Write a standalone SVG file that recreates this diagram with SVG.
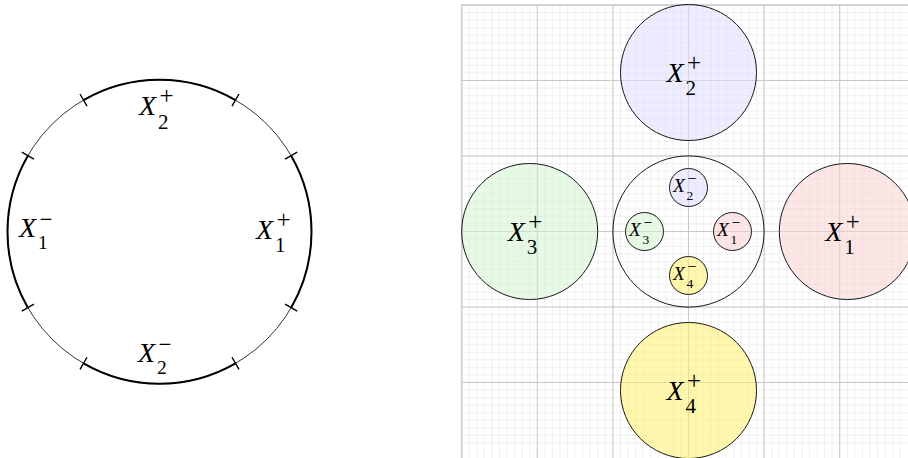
<svg xmlns="http://www.w3.org/2000/svg" width="908" height="458" viewBox="0 0 908 458">
<style>
text{font-family:"Liberation Serif",serif;fill:#000}
.x{font-style:italic;font-size:28px}
.s{font-style:normal;font-size:21px}
.s2{font-style:normal;font-size:19.5px}
.p{font-style:normal;font-size:25px}
.m{font-style:normal;font-size:23px}
.xs{font-style:italic;font-size:19.5px}
.ss{font-style:normal;font-size:13.5px}
.ps{font-style:normal;font-size:16px}
.thin{fill:none;stroke:#000;stroke-width:0.8}
.thick{fill:none;stroke:#000;stroke-width:2}
.tick{fill:none;stroke:#000;stroke-width:1.4}
.ol{fill:none;stroke:#000;stroke-width:0.9}
.mn{fill:none;stroke:#ececec;stroke-width:0.8}
</style>
<rect width="908" height="458" fill="#fff"/>
<!-- left panel -->
<g id="ring">
<circle class="thin" cx="159.5" cy="231.7" r="152"/>
<path class="thick" d="M291.14 307.7A152 152 0 0 0 291.14 155.7M235.5 100.06A152 152 0 0 0 83.5 100.06M27.86 155.7A152 152 0 0 0 27.86 307.7M83.5 363.34A152 152 0 0 0 235.5 363.34"/>
<path class="tick" d="M285.07 159.2L297.2 152.2M232 106.13L239 94M87 106.13L80 94M33.93 159.2L21.8 152.2M33.93 304.2L21.8 311.2M87 357.27L80 369.4M232 357.27L239 369.4M285.07 304.2L297.2 311.2"/>
</g>
<g id="ring-X2p"><text class="x" x="139" y="115">X<tspan class="s" x="158" y="128.5">2</tspan><tspan class="p" x="159.5" y="104">+</tspan></text></g>
<g id="ring-X2m"><text class="x" x="138" y="362">X<tspan class="s2" x="157" y="374">2</tspan><tspan class="m" x="158.5" y="351.5">−</tspan></text></g>
<g id="ring-X1m"><text class="x" x="19" y="237">X<tspan class="s2" x="38" y="249">1</tspan><tspan class="m" x="39.5" y="226.5">−</tspan></text></g>
<g id="ring-X1p"><text class="x" x="256" y="238.5">X<tspan class="s" x="275" y="252">1</tspan><tspan class="p" x="276.5" y="228">+</tspan></text></g>
<!-- right panel grid -->
<g id="grid">
<path class="mn" d="M461.7 5v453m7.56-453v453m7.56-453v453m7.56-453v453m7.56-453v453m7.56-453v453m7.56-453v453m7.56-453v453m7.56-453v453m7.56-453v453m7.56-453v453m7.56-453v453m7.56-453v453m7.56-453v453m7.56-453v453m7.56-453v453m7.56-453v453m7.56-453v453m7.56-453v453m7.56-453v453m7.56-453v453m7.56-453v453m7.56-453v453m7.56-453v453m7.56-453v453m7.56-453v453m7.56-453v453m7.56-453v453m7.56-453v453m7.56-453v453m7.56-453v453m7.56-453v453m7.56-453v453m7.56-453v453m7.56-453v453m7.56-453v453m7.56-453v453m7.56-453v453m7.56-453v453m7.56-453v453m7.56-453v453m7.56-453v453m7.56-453v453m7.56-453v453m7.56-453v453m7.56-453v453m7.56-453v453m7.56-453v453m7.56-453v453m7.56-453v453m7.56-453v453m7.56-453v453m7.56-453v453m7.56-453v453m7.56-453v453m7.56-453v453m7.56-453v453m7.56-453v453m7.56-453v453"/>
<path class="mn" d="M461.7 5h447m-447 7.55h447m-447 7.55h447m-447 7.55h447m-447 7.55h447m-447 7.55h447m-447 7.55h447m-447 7.55h447m-447 7.55h447m-447 7.55h447m-447 7.55h447m-447 7.55h447m-447 7.55h447m-447 7.55h447m-447 7.55h447m-447 7.55h447m-447 7.55h447m-447 7.55h447m-447 7.55h447m-447 7.55h447m-447 7.55h447m-447 7.55h447m-447 7.55h447m-447 7.55h447m-447 7.55h447m-447 7.55h447m-447 7.55h447m-447 7.55h447m-447 7.55h447m-447 7.55h447m-447 7.55h447m-447 7.55h447m-447 7.55h447m-447 7.55h447m-447 7.55h447m-447 7.55h447m-447 7.55h447m-447 7.55h447m-447 7.55h447m-447 7.55h447m-447 7.55h447m-447 7.55h447m-447 7.55h447m-447 7.55h447m-447 7.55h447m-447 7.55h447m-447 7.55h447m-447 7.55h447m-447 7.55h447m-447 7.55h447m-447 7.55h447m-447 7.55h447m-447 7.55h447m-447 7.55h447m-447 7.55h447m-447 7.55h447m-447 7.55h447m-447 7.55h447m-447 7.55h447"/>
<path fill="none" stroke="#c8c8c8" stroke-width="1" d="M461.7 5V458M537.3 5V458M612.9 5V458M688.5 5V458M764.1 5V458M839.7 5V458M461.7 5H908M461.7 80.5H908M461.7 156H908M461.7 231.5H908M461.7 307H908M461.7 382.5H908"/>
<path fill="none" stroke="#d0d0d0" stroke-width="1.6" d="M461.7 458V5H908"/>
</g>
<!-- fills -->
<g id="fills">
<circle cx="688.5" cy="72.5" r="68" fill="#dcdcff" fill-opacity="0.5"/>
<circle cx="529.7" cy="231.5" r="68" fill="#cdf5cd" fill-opacity="0.5"/>
<circle cx="847.3" cy="231.5" r="68" fill="#f9cdcd" fill-opacity="0.5"/>
<circle cx="688.5" cy="390.5" r="68" fill="#fff169" fill-opacity="0.55"/>
<circle cx="688.5" cy="187.5" r="19" fill="#dcdcff" fill-opacity="0.5"/>
<circle cx="644.5" cy="231.5" r="19" fill="#cdf5cd" fill-opacity="0.5"/>
<circle cx="732.5" cy="231.5" r="19" fill="#f9cdcd" fill-opacity="0.5"/>
<circle cx="688.5" cy="275.5" r="19" fill="#fff169" fill-opacity="0.55"/>
</g>
<g id="X2p"><circle class="ol" cx="688.5" cy="72.5" r="68"/><text class="x" x="666.5" y="81.5">X<tspan class="s" x="685.5" y="95">2</tspan><tspan class="p" x="687" y="71">+</tspan></text></g>
<g id="X3p"><circle class="ol" cx="529.7" cy="231.5" r="68"/><text class="x" x="507.7" y="240.5">X<tspan class="s" x="526.7" y="254">3</tspan><tspan class="p" x="528.2" y="230">+</tspan></text></g>
<g id="X1p"><circle class="ol" cx="847.3" cy="231.5" r="68"/><text class="x" x="825.3" y="240.5">X<tspan class="s" x="844.3" y="254">1</tspan><tspan class="p" x="845.8" y="230">+</tspan></text></g>
<g id="X4p"><circle class="ol" cx="688.5" cy="390.5" r="68"/><text class="x" x="666.5" y="399.5">X<tspan class="s" x="685.5" y="413">4</tspan><tspan class="p" x="687" y="389">+</tspan></text></g>
<g id="center"><circle class="ol" cx="688.5" cy="231.5" r="75.6"/></g>
<g id="X2m"><circle class="ol" cx="688.5" cy="187.5" r="19"/><text class="xs" x="673" y="192">X<tspan class="ss" x="686.5" y="199.5">2</tspan><tspan class="ps" x="687.5" y="183.5">−</tspan></text></g>
<g id="X3m"><circle class="ol" cx="644.5" cy="231.5" r="19"/><text class="xs" x="629" y="236">X<tspan class="ss" x="642.5" y="243.5">3</tspan><tspan class="ps" x="643.5" y="227.5">−</tspan></text></g>
<g id="X1m"><circle class="ol" cx="732.5" cy="231.5" r="19"/><text class="xs" x="717" y="236">X<tspan class="ss" x="730.5" y="243.5">1</tspan><tspan class="ps" x="731.5" y="227.5">−</tspan></text></g>
<g id="X4m"><circle class="ol" cx="688.5" cy="275.5" r="19"/><text class="xs" x="673" y="280">X<tspan class="ss" x="686.5" y="287.5">4</tspan><tspan class="ps" x="687.5" y="271.5">−</tspan></text></g>
</svg>
